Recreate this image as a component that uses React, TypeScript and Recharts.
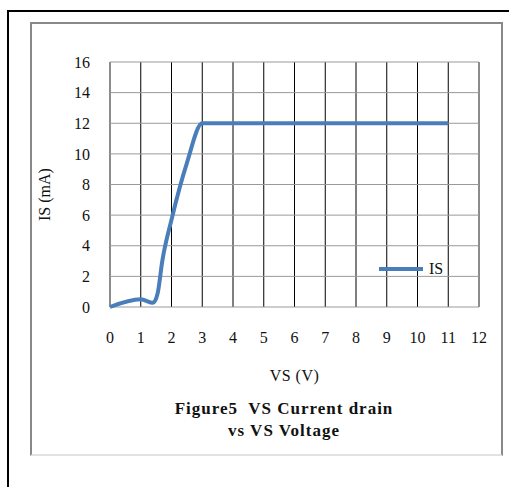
import React from 'react';
import { LineChart, Line, XAxis, YAxis, CartesianGrid, Legend, ReferenceLine } from 'recharts';

// readings of the curve, VS in volts and IS in mA
const vs = [0, 1, 1.4, 1.55, 1.7, 2, 2.5, 3, 4, 5, 6, 7, 8, 9, 10, 11];
const is = [0, 0.5, 0.28, 0.9, 3, 5.7, 9.4, 12, 12, 12, 12, 12, 12, 12, 12, 12];
const xTicks = [0, 1, 2, 3, 4, 5, 6, 7, 8, 9, 10, 11, 12];
const yTicks = [0, 2, 4, 6, 8, 10, 12, 14, 16];
const seriesName = 'IS';
const title = ['Figure5  VS Current drain', 'vs VS Voltage'];

const data = vs.map((v, i) => ({ vs: v, is: is[i] }));

const serif = '"Liberation Serif", "DejaVu Serif", serif';
const blue = '#4a7ebb';

const LegendBox = () => (
    <div style={{ display: 'flex', alignItems: 'center', fontFamily: serif, fontSize: 16 }}>
        <svg width={46} height={10}>
            <line x1={1} y1={5} x2={45} y2={5} stroke={blue} strokeWidth={4} />
        </svg>
        <span style={{ marginLeft: 5, color: '#111' }}>{seriesName}</span>
    </div>
);

export default function App() {
    return (
        <div style={{ position: 'fixed', left: 0, top: 0, width: 509, height: 487, background: '#fff', overflow: 'hidden' }}>
            {/* outer black frame, open at right and bottom */}
            <div style={{ position: 'absolute', left: 7, top: 10, width: 520, height: 490, borderLeft: '2px solid #000', borderTop: '2px solid #000' }} />
            {/* inner grey frame */}
            <div style={{
                position: 'absolute', left: 30, top: 22, width: 469, height: 430,
                borderLeft: '2px solid #888', borderTop: '2px solid #888', borderRight: '2px solid #888', borderBottom: '2px solid #e2e2e2',
            }} />
            <div style={{ position: 'absolute', left: 0, top: 0 }}>
                <LineChart
                    width={509}
                    height={487}
                    data={data}
                    margin={{ top: 62, right: 30, left: 50, bottom: 100 }}
                >
                    <CartesianGrid horizontal={false} vertical={true} stroke="#000" strokeOpacity={1} />
                    <CartesianGrid horizontal={true} vertical={false} stroke="#999" strokeOpacity={1} />
                    <ReferenceLine x={0} stroke="#999" />
                    <ReferenceLine x={12} stroke="#999" />
                    <XAxis
                        dataKey="vs"
                        type="number"
                        domain={[0, 12]}
                        ticks={xTicks}
                        interval={0}
                        axisLine={false}
                        tickLine={false}
                        tickSize={0}
                        tickMargin={25}
                        height={80}
                        tick={{ fill: '#111', fontSize: 16, fontFamily: serif }}
                        label={{ value: 'VS (V)', position: 'insideBottom', offset: 6, fill: '#111', fontSize: 16, fontFamily: serif, letterSpacing: 0.5 }}
                    />
                    <YAxis
                        type="number"
                        domain={[0, 16]}
                        ticks={yTicks}
                        interval={0}
                        axisLine={false}
                        tickLine={false}
                        tickSize={0}
                        tickMargin={20}
                        width={60}
                        tick={{ fill: '#111', fontSize: 16, fontFamily: serif }}
                        label={{ value: 'IS (mA)', angle: -90, position: 'center', dx: -36, dy: 10, fill: '#111', fontSize: 16, fontFamily: serif }}
                    />
                    <Legend
                        layout="vertical"
                        verticalAlign="middle"
                        align="center"
                        content={<LegendBox />}
                        wrapperStyle={{ position: 'absolute', left: 378, top: 260, width: 'auto' }}
                    />
                    <Line
                        type="monotone"
                        dataKey="is"
                        name={seriesName}
                        stroke={blue}
                        strokeWidth={4}
                        dot={false}
                        isAnimationActive={false}
                    />
                </LineChart>
            </div>
            <div style={{
                position: 'absolute', left: 30, width: 508, top: 398, textAlign: 'center',
                fontFamily: serif, fontWeight: 'bold', fontSize: 17, letterSpacing: 1, lineHeight: '22px', color: '#111',
            }}>
                {title.map((t) => <div key={t} style={{ whiteSpace: 'pre' }}>{t}</div>)}
            </div>
        </div>
    );
}
